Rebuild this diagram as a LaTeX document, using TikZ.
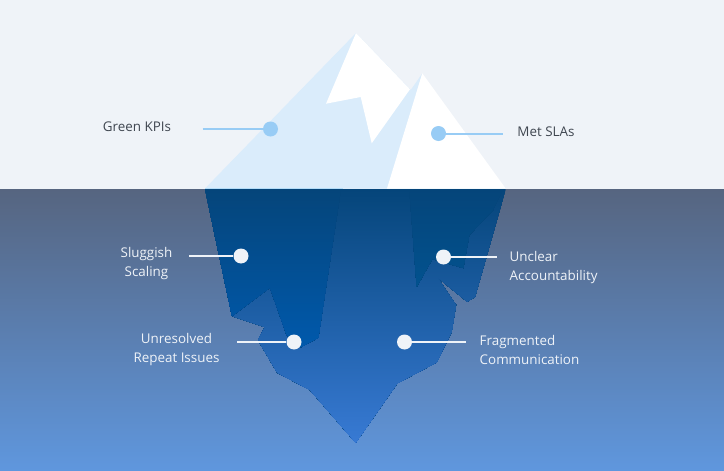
\documentclass[tikz,border=0pt]{standalone}
\usepackage{fontspec}
\setmainfont{Open Sans}
\usetikzlibrary{calc}
\definecolor{skybg}{HTML}{EFF3F8}
\definecolor{icelight}{HTML}{DAECFB}
\definecolor{icerim}{HTML}{B4DDF8}
\definecolor{seatop}{HTML}{566580}
\definecolor{seabot}{HTML}{5F97DE}
\definecolor{bodytop}{HTML}{05457A}
\definecolor{bodybot}{HTML}{387AD4}
\definecolor{darkbot}{HTML}{0059AC}
\definecolor{facetbot}{HTML}{02528F}
\definecolor{skyblue}{HTML}{98CCF5}
\definecolor{dotwhite}{HTML}{EFF3F8}
\definecolor{labeldark}{HTML}{3F4650}
\tikzset{
  upperdot/.style={circle,fill=skyblue,draw=none,inner sep=0pt,minimum size=15pt},
  lowerdot/.style={circle,fill=dotwhite,draw=none,inner sep=0pt,minimum size=15pt},
  upperline/.style={draw=skyblue,line width=2pt},
  lowerline/.style={draw=dotwhite,line width=2pt},
  upperlabel/.style={text=labeldark,font=\fontsize{13.4}{18}\selectfont,align=center,inner sep=0pt},
  lowerlabel/.style={text=dotwhite,font=\fontsize{13.4}{19}\selectfont,align=center,inner sep=0pt},
}
% vertical gradient as overlapping bands: #1 top y, #2 bottom y, #3 top colour, #4 bottom colour
\newcommand{\bandfill}[4]{%
  \foreach \yy in {#1,...,#2}{%
    \pgfmathsetmacro{\mixpct}{(\yy-#1)/(#2-#1)*100}%
    \fill[#4!\mixpct!#3] (150,\yy) rectangle (550,#2+2);
  }%
}
\begin{document}
\begin{tikzpicture}[x=1pt,y=-1pt]
\useasboundingbox (0,0) rectangle (724,471);
% sky and sea
\fill[skybg] (0,0) rectangle (724,189);
\shade[top color=seatop,bottom color=seabot] (0,189) rectangle (724,471);
% iceberg above the waterline
\fill[icelight] (356,33) -- (205,188.5) -- (505.7,188.5) -- cycle;
\fill[white] (356,33) -- (326,103.7) -- (360.7,97) -- (371.7,143.3) -- (410,89.3) -- cycle;
\fill[icelight] (422.3,73.3) -- (342.7,188.5) -- (387,188.5) -- cycle;
\fill[white] (422.3,73.3) -- (387,188.5) -- (505.7,188.5) -- cycle;
\draw[icerim,line width=.7pt] (205,188.4) -- (343,188.4);
% submerged body
\begin{scope}
\clip (205,189) -- (232,316) -- (265,327) -- (258,340) -- (277.3,372.7) -- (310,390)
  -- (355.7,442.7) -- (397.3,383.3) -- (436.7,362.3) -- (451.7,331.7) -- (456,305)
  -- (437.3,277.3) -- (467.3,301.7) -- (475,296.7) -- (505.7,189) -- cycle;
\bandfill{189}{443}{bodytop}{bodybot}
\end{scope}
% darker facets
\begin{scope}
\clip (205,189) -- (232,316) -- (270,287.7) -- (286.7,335) -- (301,347) -- (318.3,337.7)
  -- (341,189) -- cycle;
\bandfill{189}{347}{bodytop}{darkbot}
\end{scope}
\begin{scope}
\clip (409.3,189) -- (416.7,286.7) -- (432.3,259) -- (463.3,268) -- (469.3,235)
  -- (493,210) -- (503,189) -- cycle;
\bandfill{189}{287}{bodytop}{facetbot}
\end{scope}
% callouts above the water
\node[upperdot] (kpidot) at (270.5,129) {};
\node[upperdot] (sladot) at (438.5,133.5) {};
\coordinate (kpiend) at (202.5,129);
\coordinate (slaend) at (502.5,133.5);
\draw[upperline] (kpiend) -- (kpidot);
\draw[upperline] (sladot) -- (slaend);
\node[upperlabel] (kpi) at (137,127) {Green KPIs};
\node[upperlabel] (sla) at (546,131.5) {Met SLAs};
% callouts below the water
\node[lowerdot] (scaledot) at (241,256) {};
\node[lowerdot] (repeatdot) at (294,342) {};
\node[lowerdot] (accountdot) at (443.5,257) {};
\node[lowerdot] (commsdot) at (404.5,342) {};
\coordinate (scaleend) at (189,256);
\coordinate (repeatend) at (237,342);
\coordinate (accountend) at (496.5,257);
\coordinate (commsend) at (465.5,342);
\draw[lowerline] (scaleend) -- (scaledot);
\draw[lowerline] (repeatend) -- (repeatdot);
\draw[lowerline] (accountdot) -- (accountend);
\draw[lowerline] (commsdot) -- (commsend);
\node[lowerlabel] (scale) at (146.5,264) {Sluggish\\Scaling};
\node[lowerlabel] (repeat) at (176.5,350) {Unresolved\\Repeat Issues};
\node[lowerlabel,align=left,anchor=west] (account) at (509.5,267.5) {Unclear\\Accountability};
\node[lowerlabel,align=left,anchor=west] (comms) at (479.5,349.5) {Fragmented\\Communication};
\end{tikzpicture}
\end{document}
